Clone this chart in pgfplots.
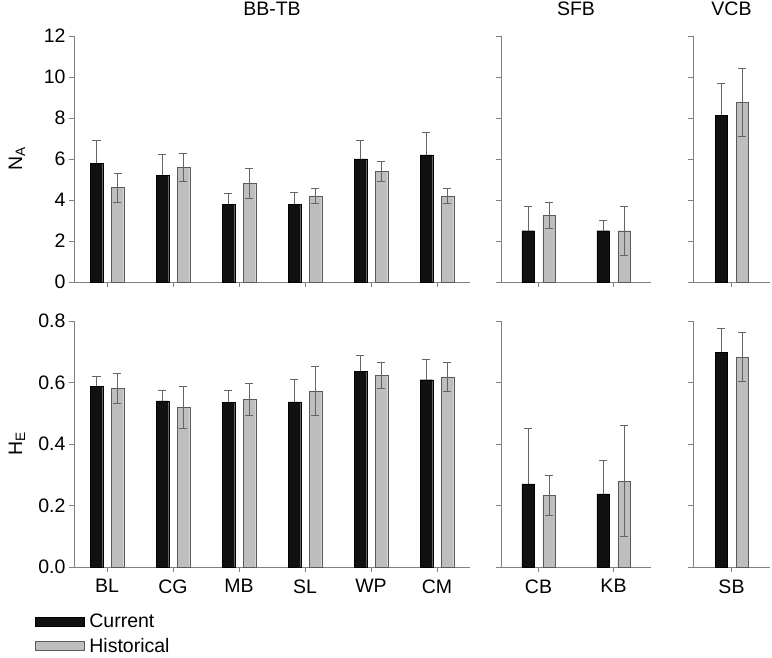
\documentclass[border=0pt]{standalone}
\usepackage{fontspec}
\setmainfont{Liberation Sans}
\usepackage{pgfplots}
\pgfplotsset{compat=1.18}
\definecolor{axgray}{RGB}{128,128,128}
\definecolor{barblack}{RGB}{17,17,17}
\definecolor{bargray}{RGB}{190,190,190}
\definecolor{edgegray}{RGB}{90,90,90}
\definecolor{errgray}{RGB}{100,100,100}
\newcommand{\fs}{\fontsize{19.5}{23}\selectfont}
\pgfplotsset{
  panel/.style={
    scale only axis, height=246pt,
    axis x line*=bottom, axis y line*=left,
    axis line style={draw=axgray, line width=0.9pt},
    every tick/.style={draw=axgray, line width=0.9pt},
    tick align=outside, major tick length=5pt,
    ybar, bar width=12.5pt,
    ymin=0,
    font=\fs,
    tick label style={font=\fs},
    xticklabel style={yshift=-4pt},
    /pgf/number format/assume math mode=true,
    clip=false,
    every axis title shift=0pt,
    title style={at={(0.5,1)}, anchor=base, yshift=20pt, inner sep=0pt, font=\fs},
  },
  toprow/.style={panel, ymax=12, ytick={0,2,...,12}, xticklabels={}},
  botrow/.style={panel, ymax=0.8, ytick={0,0.2,...,0.8},
    yticklabel style={/pgf/number format/.cd, fixed, fixed zerofill, precision=1}},
  cur/.style={fill=barblack, draw=black, bar shift=-10.5pt,
    error bars/.cd, y dir=plus, y explicit,
    error bar style={errgray, line width=0.8pt},
    error mark options={rotate=90, mark size=4pt, errgray, line width=0.8pt},
    /pgfplots/.cd},
  his/.style={fill=bargray, draw=edgegray, bar shift=10.5pt,
    error bars/.cd, y dir=both, y explicit,
    error bar style={errgray, line width=0.8pt},
    error mark options={rotate=90, mark size=4pt, errgray, line width=0.8pt},
    /pgfplots/.cd},
}
\begin{document}
\begin{tikzpicture}[x=1pt,y=1pt]
\useasboundingbox (0,0) rectangle (772,658);
% ---------- top row: N_A ----------
\begin{axis}[toprow, at={(74pt,376pt)}, anchor=south west, width=396pt,
  xmin=-0.5, xmax=5.5, xtick={0,...,5}, title={BB-TB},
  ylabel={N\textsubscript{A}},
  ylabel style={at={(axis description cs:-0.144,0.5)}, anchor=center}]
\addplot[cur] coordinates {(0,5.8) +- (0,1.1) (1,5.2) +- (0,1.0) (2,3.8) +- (0,0.5) (3,3.8) +- (0,0.55) (4,6.0) +- (0,0.9) (5,6.2) +- (0,1.1)};
\addplot[his] coordinates {(0,4.6) +- (0,0.7) (1,5.6) +- (0,0.68) (2,4.8) +- (0,0.73) (3,4.2) +- (0,0.37) (4,5.4) +- (0,0.5) (5,4.2) +- (0,0.37)};
\end{axis}
\begin{axis}[toprow, at={(501pt,376pt)}, anchor=south west, width=150pt,
  xmin=-0.5, xmax=1.5, xtick={0,1}, title={SFB}, yticklabels={}]
\addplot[cur] coordinates {(0,2.5) +- (0,1.2) (1,2.5) +- (0,0.5)};
\addplot[his] coordinates {(0,3.25) +- (0,0.63) (1,2.5) +- (0,1.2)};
\end{axis}
\begin{axis}[toprow, at={(693pt,376pt)}, anchor=south west, width=77pt,
  xmin=-0.5, xmax=0.5, xtick={0}, title={VCB}, yticklabels={}]
\addplot[cur] coordinates {(0,8.15) +- (0,1.53)};
\addplot[his] coordinates {(0,8.75) +- (0,1.65)};
\end{axis}
% ---------- bottom row: H_E ----------
\begin{axis}[botrow, at={(74pt,91pt)}, anchor=south west, width=396pt,
  xmin=-0.5, xmax=5.5, xtick={0,...,5}, xticklabels={BL,CG,MB,SL,WP,CM},
  ylabel={H\textsubscript{E}},
  ylabel style={at={(axis description cs:-0.144,0.5)}, anchor=center},
  legend cell align=left,
  legend style={at={(0,0)}, anchor=north west, xshift=-42pt, yshift=-43pt,
    draw=none, fill=none, font=\fs, row sep=5pt}]
\addplot[forget plot, cur] coordinates {(0,0.588) +- (0,0.033) (1,0.540) +- (0,0.035) (2,0.535) +- (0,0.04) (3,0.537) +- (0,0.072) (4,0.636) +- (0,0.051) (5,0.609) +- (0,0.066)};
\addplot[forget plot, his] coordinates {(0,0.581) +- (0,0.048) (1,0.519) +- (0,0.069) (2,0.545) +- (0,0.053) (3,0.573) +- (0,0.08) (4,0.624) +- (0,0.042) (5,0.618) +- (0,0.048)};
\addlegendimage{legend image code/.code={\draw[fill=barblack,draw=black] (0pt,-4.5pt) rectangle (49pt,4.5pt); \path[draw=none,fill=none] (0pt,0pt) -- (52pt,0pt);}}
\addlegendentry{Current}
\addlegendimage{legend image code/.code={\draw[fill=bargray,draw=edgegray] (0pt,-4.5pt) rectangle (49pt,4.5pt); \path[draw=none,fill=none] (0pt,0pt) -- (52pt,0pt);}}
\addlegendentry{Historical}
\end{axis}
\begin{axis}[botrow, at={(501pt,91pt)}, anchor=south west, width=150pt,
  xmin=-0.5, xmax=1.5, xtick={0,1}, xticklabels={CB,KB}, yticklabels={}]
\addplot[cur] coordinates {(0,0.270) +- (0,0.181) (1,0.238) +- (0,0.108)};
\addplot[his] coordinates {(0,0.233) +- (0,0.064) (1,0.279) +- (0,0.18)};
\end{axis}
\begin{axis}[botrow, at={(693pt,91pt)}, anchor=south west, width=77pt,
  xmin=-0.5, xmax=0.5, xtick={0}, xticklabels={SB}, yticklabels={}]
\addplot[cur] coordinates {(0,0.699) +- (0,0.077)};
\addplot[his] coordinates {(0,0.682) +- (0,0.08)};
\end{axis}
\end{tikzpicture}
\end{document}
